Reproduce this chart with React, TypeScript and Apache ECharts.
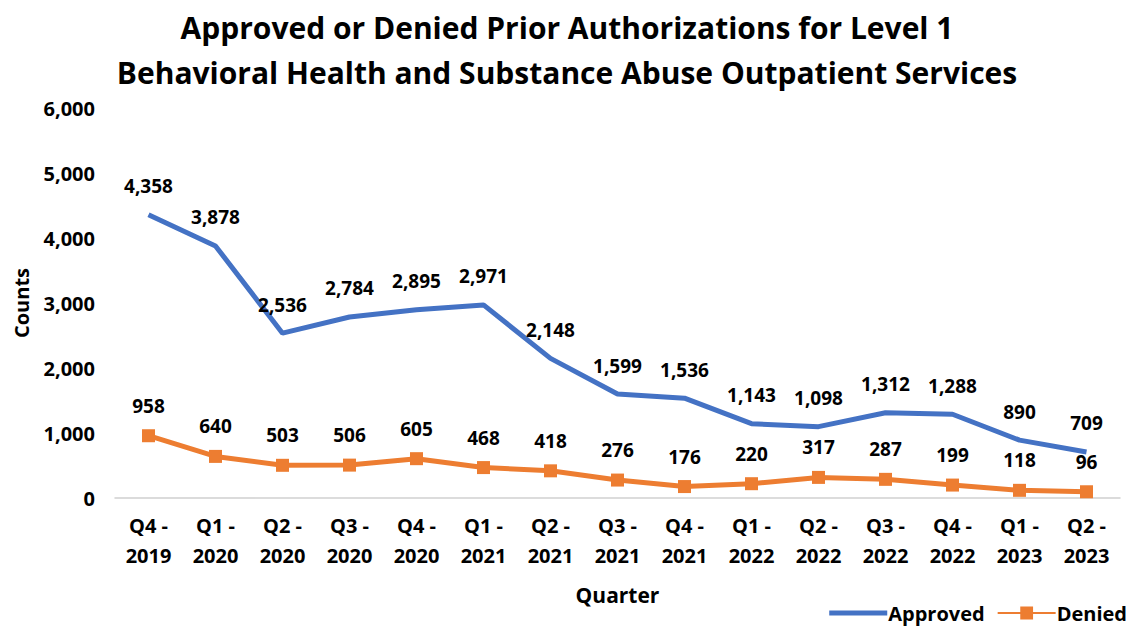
import React, { useEffect, useRef } from "react";
import * as echarts from "echarts";

const quarters = [
  "Q4 -\n2019", "Q1 -\n2020", "Q2 -\n2020", "Q3 -\n2020", "Q4 -\n2020",
  "Q1 -\n2021", "Q2 -\n2021", "Q3 -\n2021", "Q4 -\n2021", "Q1 -\n2022",
  "Q2 -\n2022", "Q3 -\n2022", "Q4 -\n2022", "Q1 -\n2023", "Q2 -\n2023",
];
const approved = [4358, 3878, 2536, 2784, 2895, 2971, 2148, 1599, 1536, 1143, 1098, 1312, 1288, 890, 709];
const denied = [958, 640, 503, 506, 605, 468, 418, 276, 176, 220, 317, 287, 199, 118, 96];

const FONT = "'Open Sans', 'Noto Sans', sans-serif";

export default function App() {
  const ref = useRef<HTMLDivElement>(null);
  useEffect(() => {
    const chart = echarts.init(ref.current!, undefined, { renderer: "svg" });
    const fmt = (v: number) => v.toLocaleString("en-US");
    chart.setOption({
      animation: false,
      backgroundColor: "#ffffff",
      textStyle: { fontFamily: FONT },
      title: {
        text: "Approved or Denied Prior Authorizations for Level 1\nBehavioral Health and Substance Abuse Outpatient Services",
        left: "center",
        top: 0,
        textStyle: { fontSize: 30, fontWeight: "bold", color: "#000", lineHeight: 45, fontFamily: FONT },
      },
      legend: {
        right: 2,
        bottom: -2,
        itemWidth: 58,
        itemHeight: 16,
        itemGap: 12,
        textStyle: { fontSize: 20, fontWeight: "bold", color: "#000", fontFamily: FONT, padding: [0, 0, 0, -4] },
        data: [
          { name: "Approved", icon: "path://M0,0H60V5H0Z" },
          { name: "Denied" },
        ],
      },
      grid: { left: 115, right: 14, top: 108, bottom: 128 },
      xAxis: {
        type: "category",
        data: quarters,
        name: "Quarter",
        nameLocation: "middle",
        nameGap: 86,
        nameTextStyle: { fontSize: 21, fontWeight: "bold", color: "#000", fontFamily: FONT },
        axisLine: { lineStyle: { color: "#d0d0d0", width: 1.5 } },
        axisTick: { show: false },
        axisLabel: { fontSize: 20, fontWeight: "bold", color: "#000", lineHeight: 30, margin: 12, fontFamily: FONT },
      },
      yAxis: {
        type: "value",
        min: 0,
        max: 6000,
        interval: 1000,
        name: "Counts",
        nameLocation: "middle",
        nameGap: 84,
        nameTextStyle: { fontSize: 20, fontWeight: "bold", color: "#000", fontFamily: FONT },
        splitLine: { show: false },
        axisLine: { show: false },
        axisTick: { show: false },
        axisLabel: { fontSize: 20, fontWeight: "bold", color: "#000", margin: 20, fontFamily: FONT, formatter: (v: number) => fmt(v) },
      },
      series: [
        {
          name: "Approved",
          type: "line",
          data: approved,
          symbol: "circle",
          symbolSize: 0.1,
          lineStyle: { color: "#4472C4", width: 5 },
          itemStyle: { color: "#4472C4" },
          label: {
            show: true,
            position: "top",
            distance: 19,
            fontSize: 19,
            fontWeight: "bold",
            color: "#000",
            fontFamily: FONT,
            formatter: (p: any) => fmt(p.value),
          },
        },
        {
          name: "Denied",
          type: "line",
          data: denied,
          symbol: "rect",
          symbolSize: 13,
          lineStyle: { color: "#ED7D31", width: 5 },
          itemStyle: { color: "#ED7D31" },
          label: {
            show: true,
            position: "top",
            distance: 14,
            fontSize: 19,
            fontWeight: "bold",
            color: "#000",
            fontFamily: FONT,
            formatter: (p: any) => fmt(p.value),
          },
        },
      ],
    });
    return () => chart.dispose();
  }, []);
  return <div ref={ref} style={{ width: 1134, height: 626, position: "absolute", left: 0, top: 0 }} />;
}
